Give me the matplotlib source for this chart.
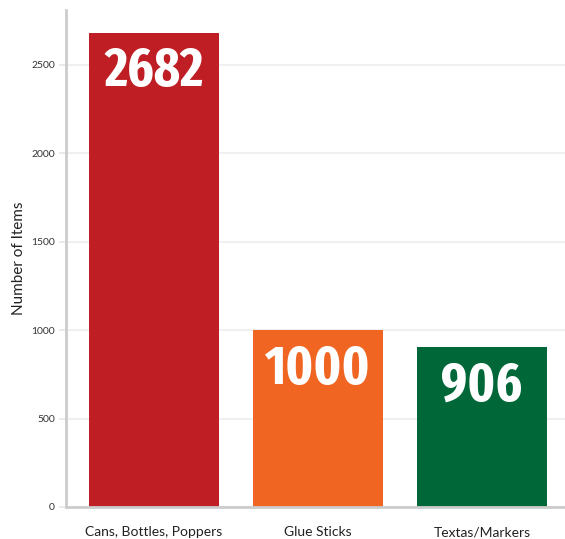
import matplotlib
matplotlib.use("Agg")
import matplotlib.pyplot as plt
from matplotlib import font_manager as fm

categories = ["Cans, Bottles, Poppers", "Glue Sticks", "Textas/Markers"]
values = [2682, 1000, 906]
colors = ["#BE1E24", "#F06522", "#006838"]
yticks = [0, 500, 1000, 1500, 2000, 2500]


def pick_condensed_font():
    best = None
    best_score = -99
    for f in fm.fontManager.ttflist:
        name = (f.name + " " + f.fname).lower()
        cond = ("condensed" in name or "narrow" in name or
                str(f.stretch) in ("condensed", "semi-condensed", "extra-condensed", "ultra-condensed"))
        if not cond:
            continue
        score = 0
        w = f.weight if isinstance(f.weight, int) else {"bold": 700, "normal": 400}.get(f.weight, 400)
        if 550 <= w <= 700:
            score += 3
        elif w > 700:
            score += 1
        if "italic" in name or "oblique" in name or f.style != "normal":
            score -= 5
        if "extracondensed" in name.replace(" ", "").replace("-", "") or str(f.stretch) == "extra-condensed":
            score += 2
        elif "semicondensed" in name.replace(" ", "").replace("-", ""):
            score -= 1
        if score > best_score:
            best_score = score
            best = f
    if best is not None:
        return fm.FontProperties(fname=best.fname)
    return fm.FontProperties(family="DejaVu Sans", weight="bold")


num_font = pick_condensed_font()

fig = plt.figure(figsize=(5.65, 5.39), dpi=100)
ax = fig.add_axes([66/565, 1-507/539, 1-66/565, (507-10)/539])

x = list(range(len(categories)))
ax.bar(x, values, width=0.79, color=colors, zorder=2)
ax.set_xlim(-0.537, 2.506)
ax.set_ylim(0, 2811)
ax.set_yticks(yticks)
ax.set_yticklabels([str(v) for v in yticks], fontsize=7.5, color="#333333", family="Lato")
ax.set_xticks(x)
ax.set_xticklabels(categories, fontsize=10, color="#222222", family="Lato")
ax.tick_params(axis="y", length=5, color="#e6e6e6", width=1.2, pad=3)
ax.tick_params(axis="x", length=0, pad=14)
ax.grid(axis="y", color="#eeeeee", linewidth=1.2, zorder=0)
ax.set_axisbelow(True)
for s in ["top", "right"]:
    ax.spines[s].set_visible(False)
for s in ["left", "bottom"]:
    ax.spines[s].set_color("#cccccc")
    ax.spines[s].set_linewidth(2)
ax.set_ylabel("Number of Items", fontsize=11, color="#222222", family="Lato", labelpad=4)

texts = []
for xi, v in zip(x, values):
    t = ax.annotate(str(v), (xi, v), xytext=(0, -9), textcoords="offset points",
                    ha="center", va="top", color="white", fontproperties=num_font,
                    fontsize=44, zorder=3)
    texts.append(t)

fig.canvas.draw()
r = fig.canvas.get_renderer()
w = texts[0].get_window_extent(r).width
scale = min(1.0, 99.0 / w)
for t in texts:
    t.set_fontsize(44 * scale)

fig.savefig("out.png", dpi=100)
